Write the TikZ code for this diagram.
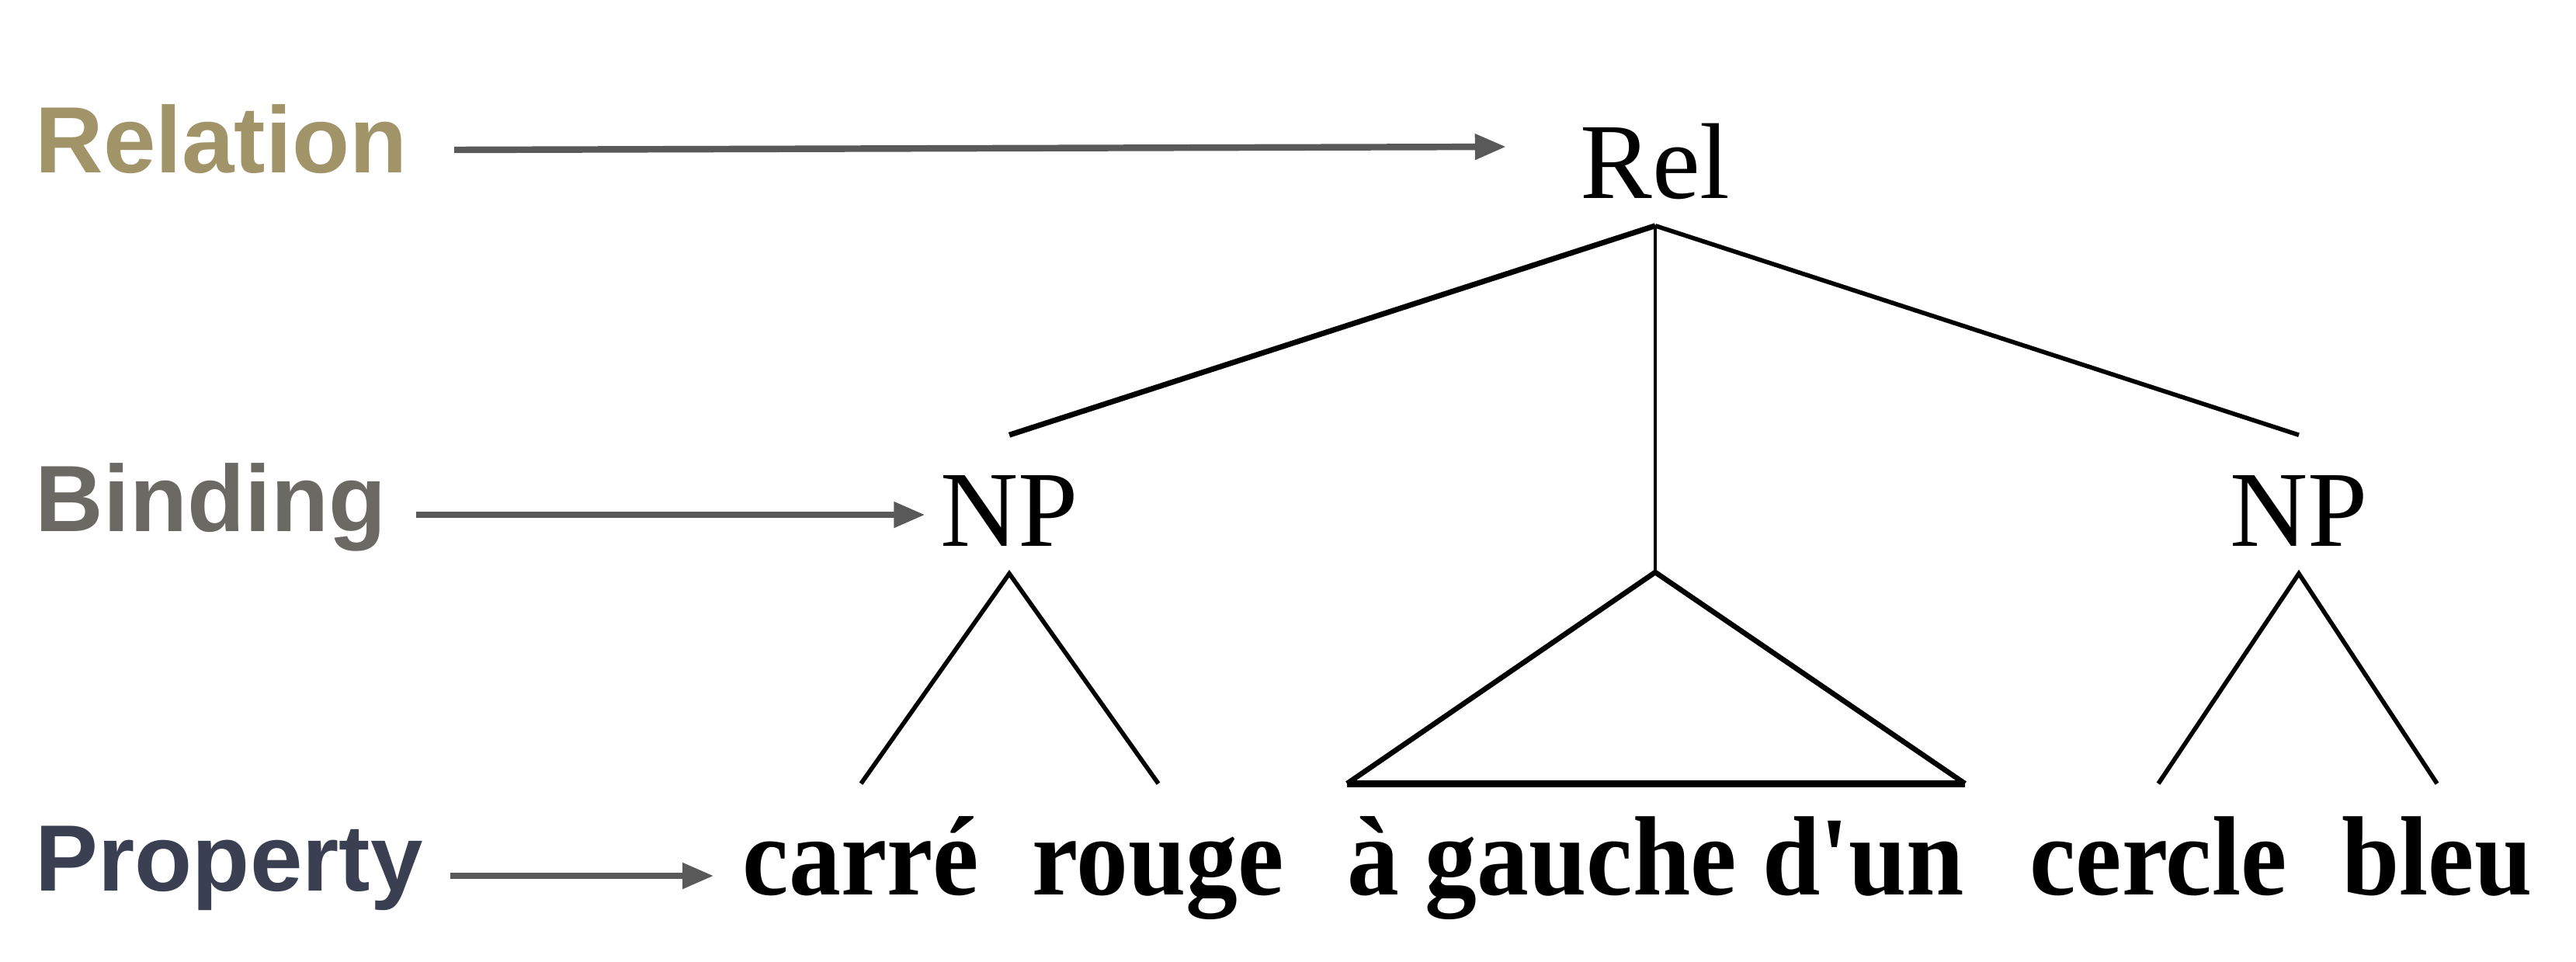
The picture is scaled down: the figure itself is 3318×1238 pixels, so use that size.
\documentclass[tikz,border=0pt]{standalone}
\usepackage{fontspec}
\setmainfont{Liberation Serif}
\newfontfamily\labfont{Liberation Sans}
\newfontfamily\wordfont{Liberation Serif}
\usetikzlibrary{arrows.meta}
\definecolor{relcol}{HTML}{A09468}
\definecolor{bindcol}{HTML}{6A6964}
\definecolor{propcol}{HTML}{3A3F52}
\definecolor{arrcol}{HTML}{595959}
\tikzset{
  lab/.style={inner sep=0pt, anchor=base west, font=\labfont\bfseries\fontsize{34.5pt}{40pt}\selectfont},
  cat/.style={inner xsep=0pt, inner ysep=0.35cm, anchor=base, text height=1.07cm, text depth=0pt,
              font=\fontsize{39.5pt}{46pt}\selectfont},
  word/.style={inner sep=0pt, anchor=base, text height=1.42cm, font=\wordfont\bfseries\fontsize{41.3pt}{48pt}\selectfont},
  arr/.style={draw=arrcol, line width=2.4pt, -{Triangle[length=11.4pt,width=9pt]}},
  edgethick/.style={draw=black, line width=2pt},
  edgemid/.style={draw=black, line width=1.6pt},
  edgethin/.style={draw=black, line width=1.1pt},
  roof/.style={draw=black, line width=1.9pt, line join=round},
  roofbase/.style={draw=black, line width=2.6pt},
}
\begin{document}
\begin{tikzpicture}[x=0.01cm, y=-0.01cm]
\useasboundingbox (0,0) rectangle (3318,1238);

% level labels
\node[lab, text=relcol]  (labRel)  at (45,222)  {Relation};
\node[lab, text=bindcol] (labBind) at (45,684)  {Binding};
\node[lab, text=propcol] (labProp) at (45,1147) {Property};

% tree categories
\node[cat] (rel) at (2132,255) {Rel};
\node[cat] (npL) at (1300,703) {NP};
\node[cat] (npR) at (2961,703) {NP};
\coordinate (apex) at (2132,737);

% words
\node[word] (carre)  at (1109,1152) {\scalebox{0.92}[1]{carré}};
\node[word] (rouge)  at (1492,1152) {\scalebox{0.92}[1]{rouge}};
\node[word] (agdun)  at (2133,1152) {\scalebox{0.92}[1]{à gauche d'un}};
\node[word] (cercle) at (2780,1152) {\scalebox{0.92}[1]{cercle}};
\node[word] (bleu)   at (3139,1152) {\scalebox{0.92}[1]{bleu}};

% tree edges
\draw[edgethick] (rel.south) -- (npL.north);
\draw[edgemid]   (rel.south) -- (npR.north);
\draw[edgethin]  (rel.south) -- (apex);
\draw[roof] (agdun.north west) -- (apex) -- (agdun.north east);
\draw[roofbase] (agdun.north west) -- (agdun.north east);
\draw[edgemid] (carre.north) -- (npL.south) -- (rouge.north);
\draw[edgemid] (cercle.north) -- (npR.south) -- (bleu.north);

% level arrows
\draw[arr] ([shift={(60,-29)}]labRel.base east) -- ([shift={(-95,-66)}]rel.base west);
\draw[arr] ([shift={(38,-21)}]labBind.base east) -- ([shift={(-19,-40)}]npL.base west);
\draw[arr] ([shift={(35,-19)}]labProp.base east) -- ([shift={(-37,-24)}]carre.base west);
\end{tikzpicture}
\end{document}
